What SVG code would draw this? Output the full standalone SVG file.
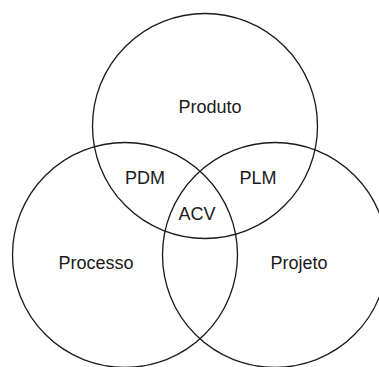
<svg xmlns="http://www.w3.org/2000/svg" width="379" height="367" viewBox="0 0 379 367">
<style>
.c{fill:none;stroke:#1a1a1a;stroke-width:1.3}
.t{font-family:"Liberation Sans",Arial,sans-serif;font-size:18px;fill:#1a1a1a;text-anchor:middle}
</style>
<rect width="379" height="367" fill="#fff"/>
<g id="produto"><circle class="c" cx="205" cy="126" r="112.5"/><text class="t" x="210" y="113">Produto</text></g>
<g id="processo"><circle class="c" cx="125" cy="255" r="112.5"/><text class="t" x="96" y="269">Processo</text></g>
<g id="projeto"><circle class="c" cx="275" cy="255" r="112.5"/><text class="t" x="299" y="269">Projeto</text></g>
<g id="pdm"><text class="t" x="145" y="184">PDM</text></g>
<g id="plm"><text class="t" x="258" y="184">PLM</text></g>
<g id="acv"><text class="t" x="197" y="220">ACV</text></g>
<g id="connectors"></g>
</svg>
